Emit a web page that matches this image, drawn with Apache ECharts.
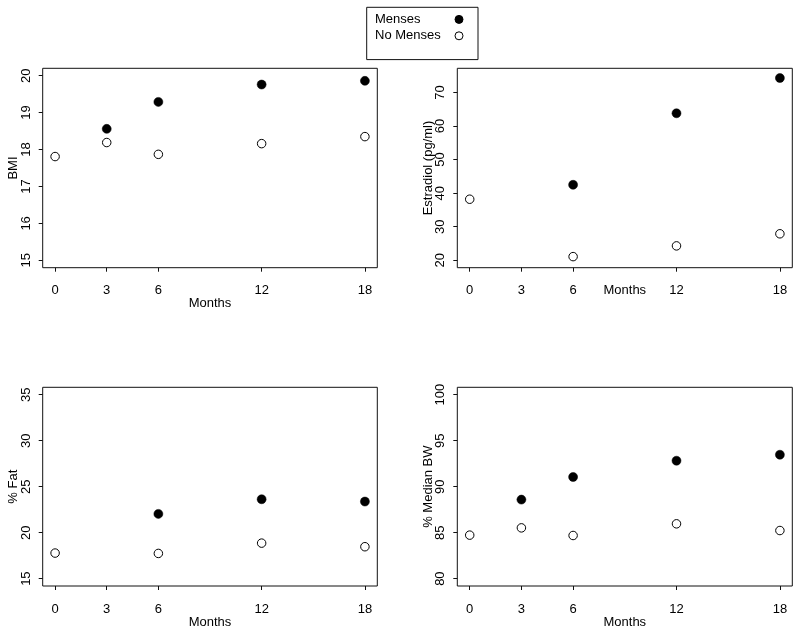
<!DOCTYPE html>
<html>
<head>
<meta charset="utf-8">
<script src="https://cdn.jsdelivr.net/npm/echarts@6.0.0/dist/echarts.min.js"></script>
<style>
html,body{margin:0;padding:0;background:#fff;}
#chart{width:800px;height:633px;}
</style>
</head>
<body>
<div id="chart"></div>
<script>
// ---- data ----
var months = [0, 3, 6, 12, 18];
var monthTicks = [0, 3, 6, 12, 18];

var bmiMenses    = [null, 18.56, 19.29, 19.76, 19.86];
var bmiNoMenses  = [17.81, 18.19, 17.87, 18.16, 18.35];
var bmiTicks     = [15, 16, 17, 18, 19, 20];

var e2Menses     = [null, null, 42.5, 63.8, 74.3];
var e2NoMenses   = [38.2, null, 21.1, 24.3, 27.9];
var e2Ticks      = [20, 30, 40, 50, 60, 70];

var fatMenses    = [null, null, 22.04, 23.63, 23.38];
var fatNoMenses  = [17.78, null, 17.74, 18.86, 18.47];
var fatTicks     = [15, 20, 25, 30, 35];

var bwMenses     = [null, 88.59, 91.05, 92.82, 93.47];
var bwNoMenses   = [84.73, 85.52, 84.69, 85.96, 85.23];
var bwTicks      = [80, 85, 90, 95, 100];

var seriesNames = ['Menses', 'No Menses'];
var yNames = ['BMI', 'Estradiol (pg/ml)', '% Fat', '% Median BW'];
var xName = 'Months';

// ---- helpers ----
var FONT = "'Liberation Sans', Arial, Helvetica, sans-serif";
function pairs(vals) {
  var out = [];
  for (var i = 0; i < months.length; i++) {
    if (vals[i] !== null) out.push([months[i], vals[i]]);
  }
  return out;
}
function rExt(lo, hi) { var d = (hi - lo) * 0.04; return [lo - d, hi + d]; }

var panels = [
  {grid: {left: 42.7, top: 68.3, width: 334.6, height: 199.4}, lim: rExt(15, 20), ticks: bmiTicks, m: bmiMenses, n: bmiNoMenses, xGap: 29, yGap: 22.5, xMargin: 16},
  {grid: {left: 457.3, top: 68.3, width: 335, height: 199.4}, lim: rExt(20, 75), ticks: e2Ticks, m: e2Menses, n: e2NoMenses, xGap: 16, yGap: 22.5, xMargin: 16},
  {grid: {left: 42.7, top: 387.3, width: 334.6, height: 198.7}, lim: rExt(15, 35), ticks: fatTicks, m: fatMenses, n: fatNoMenses, xGap: 29.5, yGap: 22.5, xMargin: 17},
  {grid: {left: 457.3, top: 387.3, width: 335, height: 198.7}, lim: rExt(80, 100), ticks: bwTicks, m: bwMenses, n: bwNoMenses, xGap: 29.5, yGap: 22.5, xMargin: 17}
];

var grids = [], xAxes = [], yAxes = [], series = [];
var xLim = rExt(0, 18);
panels.forEach(function (p, i) {
  grids.push(Object.assign({show: true, borderColor: '#111', borderWidth: 1, backgroundColor: 'transparent'}, p.grid));
  xAxes.push({
    gridIndex: i, type: 'value', min: xLim[0], max: xLim[1], position: 'bottom',
    splitLine: {show: false},
    axisLine: {show: false, onZero: false},
    axisTick: {show: true, inside: false, length: 4, customValues: monthTicks, lineStyle: {color: '#111', width: 1}},
    axisLabel: {customValues: monthTicks, margin: p.xMargin, color: '#000', fontSize: 13, fontFamily: FONT},
    name: xName, nameLocation: 'middle', nameGap: p.xGap, nameMoveOverlap: false,
    nameTextStyle: {color: '#000', fontSize: 13, fontFamily: FONT}
  });
  yAxes.push({
    gridIndex: i, type: 'value', min: p.lim[0], max: p.lim[1], position: 'left',
    splitLine: {show: false},
    axisLine: {show: false, onZero: false},
    axisTick: {show: true, inside: false, length: 4, customValues: p.ticks, lineStyle: {color: '#111', width: 1}},
    axisLabel: {customValues: p.ticks, rotate: 90, margin: 10, color: '#000', fontSize: 13, fontFamily: FONT},
    name: yNames[i], nameLocation: 'middle', nameGap: p.yGap, nameRotate: 90, nameMoveOverlap: false,
    nameTextStyle: {color: '#000', fontSize: 13, fontFamily: FONT}
  });
  series.push({
    name: seriesNames[0], type: 'scatter', xAxisIndex: i, yAxisIndex: i,
    symbol: 'circle', symbolSize: 9,
    itemStyle: {color: '#000', borderColor: '#000', borderWidth: 0.5, opacity: 1},
    emphasis: {disabled: true},
    data: pairs(p.m)
  });
  series.push({
    name: seriesNames[1], type: 'scatter', xAxisIndex: i, yAxisIndex: i,
    symbol: 'circle', symbolSize: 8.5,
    itemStyle: {color: '#fff', borderColor: '#000', borderWidth: 1, opacity: 1},
    emphasis: {disabled: true},
    data: pairs(p.n)
  });
});

var chart = echarts.init(document.getElementById('chart'), null, {renderer: 'canvas'});
chart.setOption({
  animation: false,
  backgroundColor: '#fff',
  legend: {
    data: seriesNames,
    orient: 'vertical',
    left: 366.7, top: 7.3,
    align: 'right',
    padding: [5.6, 14.5, 17.3, 8.3],
    itemGap: 3.4,
    itemWidth: 8, itemHeight: 8,
    itemStyle: {borderWidth: 1},
    borderColor: '#111', borderWidth: 1,
    selectedMode: false,
    icon: 'circle',
    formatter: '{a|{name}}',
    textStyle: {
      color: '#000', fontSize: 13, fontFamily: FONT,
      rich: {a: {width: 75, align: 'left', lineHeight: 16, fontSize: 13, fontFamily: FONT, color: '#000'}}
    }
  },
  grid: grids,
  xAxis: xAxes,
  yAxis: yAxes,
  series: series
});
</script>
</body>
</html>
